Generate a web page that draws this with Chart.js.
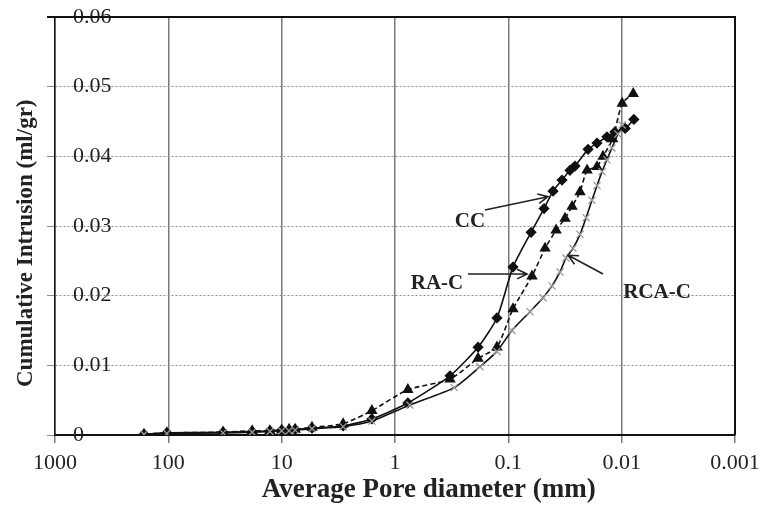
<!DOCTYPE html>
<html>
<head>
<meta charset="utf-8">
<script src="https://cdn.jsdelivr.net/npm/chart.js@4.4.0/dist/chart.umd.min.js"></script>
<style>
  html, body { margin: 0; padding: 0; background: #fff; }
  #wrap { width: 763px; height: 506px; }
</style>
</head>
<body>
<div id="wrap"><canvas id="poros"></canvas></div>
<script>
/* ==================
    DATOS
================== */

// CC (rombos, linea continua)
const diamCC = [164, 103, 32.9, 18.2, 12.7, 10, 8.6, 7.6, 5.4, 2.87, 1.6, 0.77, 0.327, 0.185, 0.126, 0.091, 0.063, 0.0484, 0.0403, 0.0336, 0.0286, 0.0258, 0.0198, 0.0165, 0.0135, 0.0115, 0.0093, 0.0078];
const intrCC = [0.0001, 0.0003, 0.0004, 0.0005, 0.0006, 0.0007, 0.0007, 0.0008, 0.0010, 0.0013, 0.0023, 0.0046, 0.0085, 0.0126, 0.0168, 0.0241, 0.0291, 0.0325, 0.0350, 0.0366, 0.0380, 0.0386, 0.0410, 0.0419, 0.0428, 0.0435, 0.0440, 0.0453];

// RA-C (triangulos, linea discontinua)
const diamRAC = [164, 103, 32.9, 18.2, 12.7, 10, 8.6, 7.6, 5.4, 2.87, 1.6, 0.77, 0.327, 0.185, 0.126, 0.091, 0.0618, 0.0474, 0.0379, 0.0316, 0.0274, 0.0233, 0.0202, 0.0165, 0.0146, 0.0120, 0.0099, 0.0079];
const intrRAC = [0.0001, 0.0003, 0.0004, 0.0006, 0.0006, 0.0007, 0.0008, 0.0008, 0.0011, 0.0016, 0.0035, 0.0065, 0.0080, 0.0110, 0.0126, 0.0181, 0.0228, 0.0268, 0.0294, 0.0311, 0.0328, 0.0349, 0.0380, 0.0385, 0.0400, 0.0425, 0.0476, 0.0490];

// RCA-C (cruces grises, linea continua)
const diamRCAC = [164, 103, 32.9, 18.2, 12.7, 10, 8.6, 7.6, 5.4, 2.87, 1.6, 0.74, 0.30, 0.178, 0.126, 0.093, 0.0644, 0.0494, 0.0412, 0.035, 0.031, 0.0269, 0.0233, 0.0206, 0.0183, 0.0165, 0.0149, 0.0135, 0.0122, 0.0108, 0.0099];
const intrRCAC = [0.0001, 0.0002, 0.0003, 0.0004, 0.0005, 0.0006, 0.0006, 0.0007, 0.0009, 0.0012, 0.0020, 0.0043, 0.0068, 0.0098, 0.0120, 0.0150, 0.0177, 0.0197, 0.0214, 0.0234, 0.0254, 0.0268, 0.0288, 0.0312, 0.0337, 0.0358, 0.0378, 0.0395, 0.0412, 0.0432, 0.0445];

// Marcas de los ejes
const ticksX = [1000, 100, 10, 1, 0.1, 0.01, 0.001];
const etiquetasX = ['1000', '100', '10', '1', '0.1', '0.01', '0.001'];
const etiquetasY = ['0', '0.01', '0.02', '0.03', '0.04', '0.05', '0.06'];

// Rotulos con flecha (en unidades de los ejes)
const rotulos = [
    { texto: 'CC', x: 0.218, y: 0.0306, x0: 0.161, y0: 0.0323, x1: 0.0447, y1: 0.0342 },
    { texto: 'RA-C', x: 0.426, y: 0.0217, x0: 0.227, y0: 0.0231, x1: 0.0684, y1: 0.0231 },
    { texto: 'RCA-C', x: 0.00488, y: 0.0204, x0: 0.0146, y0: 0.0231, x1: 0.0297, y1: 0.0258 }
];

const puntos = (xs, ys) => xs.map((x, i) => ({ x: x, y: ys[i] }));
const nb = n => '\u00a0'.repeat(n);

/* ==================
    PLUGINS
================== */

// Marco negro arriba y a la derecha
const marco = {
    id: 'marco',
    afterDatasetsDraw(chart) {
        const { ctx, chartArea: a } = chart;
        ctx.save();
        ctx.strokeStyle = '#111';
        ctx.lineWidth = 2;
        ctx.beginPath();
        ctx.moveTo(a.left - 8, a.top);
        ctx.lineTo(a.right, a.top);
        ctx.lineTo(a.right, a.bottom);
        ctx.stroke();
        ctx.restore();
    }
};

// Textos y flechas
const flechas = {
    id: 'flechas',
    afterDatasetsDraw(chart) {
        const { ctx, scales } = chart;
        const sx = scales.x, sy = scales.y;
        ctx.save();
        ctx.font = 'bold 21px "Liberation Serif", serif';
        ctx.fillStyle = '#222';
        ctx.strokeStyle = '#222';
        ctx.lineWidth = 1.6;
        ctx.textAlign = 'center';
        ctx.textBaseline = 'middle';
        rotulos.forEach(r => {
            ctx.fillText(r.texto, sx.getPixelForValue(r.x), sy.getPixelForValue(r.y));
            const ax = sx.getPixelForValue(r.x0), ay = sy.getPixelForValue(r.y0);
            const bx = sx.getPixelForValue(r.x1), by = sy.getPixelForValue(r.y1);
            const ang = Math.atan2(by - ay, bx - ax);
            ctx.beginPath();
            ctx.moveTo(ax, ay);
            ctx.lineTo(bx, by);
            ctx.moveTo(bx - 11 * Math.cos(ang - 0.45), by - 11 * Math.sin(ang - 0.45));
            ctx.lineTo(bx, by);
            ctx.lineTo(bx - 11 * Math.cos(ang + 0.45), by - 11 * Math.sin(ang + 0.45));
            ctx.stroke();
        });
        ctx.restore();
    }
};

/* ==================
    GRAFICA
================== */

const ctx = document.getElementById('poros').getContext('2d');
new Chart(ctx, {
    type: 'line',
    data: {
        datasets: [
            {
                label: 'RCA-C',
                data: puntos(diamRCAC, intrRCAC),
                borderColor: '#111',
                borderWidth: 1.6,
                pointStyle: 'crossRot',
                pointRadius: 5,
                pointBorderColor: '#999',
                pointBorderWidth: 1.3,
                tension: 0.2
            },
            {
                label: 'RA-C',
                data: puntos(diamRAC, intrRAC),
                borderColor: '#111',
                borderWidth: 1.6,
                borderDash: [5, 3],
                pointStyle: 'triangle',
                pointRadius: 5,
                pointBackgroundColor: '#111',
                pointBorderColor: '#111',
                tension: 0.2
            },
            {
                label: 'CC',
                data: puntos(diamCC, intrCC),
                borderColor: '#111',
                borderWidth: 1.6,
                pointStyle: 'rectRot',
                pointRadius: 4.5,
                pointBackgroundColor: '#111',
                pointBorderColor: '#111',
                tension: 0.2
            }
        ]
    },
    options: {
        responsive: true,
        maintainAspectRatio: false,
        animation: false,
        layout: { padding: { top: 17, right: 28, left: 0, bottom: 0 } },
        plugins: {
            legend: { display: false },
            tooltip: { enabled: false }
        },
        scales: {
            x: {
                type: 'logarithmic',
                reverse: true,
                min: 0.001,
                max: 1000,
                afterBuildTicks: s => { s.ticks = ticksX.map(v => ({ value: v })); },
                afterFit: s => { s.height = 71; s.paddingLeft = 0; s.paddingRight = 0; },
                ticks: {
                    autoSkip: false,
                    maxRotation: 0,
                    padding: 7,
                    color: '#222',
                    font: { family: '"Liberation Serif", serif', size: 22 },
                    callback: (v, i) => etiquetasX[i]
                },
                grid: { color: '#7a7a7a', lineWidth: 1.5, tickLength: 8 },
                border: { color: '#111', width: 2 },
                title: {
                    display: true,
                    text: nb(10) + 'Average Pore diameter (mm)',
                    color: '#222',
                    padding: { top: 0, bottom: 0 },
                    font: { family: '"Liberation Serif", serif', size: 27, weight: 'bold' }
                }
            },
            y: {
                min: 0,
                max: 0.06,
                afterFit: s => { s.width = 55; s.paddingTop = 0; s.paddingBottom = 0; },
                ticks: {
                    stepSize: 0.01,
                    mirror: true,
                    padding: 18,
                    color: '#222',
                    font: { family: '"Liberation Serif", serif', size: 22 },
                    callback: (v, i) => etiquetasY[i]
                },
                grid: { color: '#8a8a8a', lineWidth: 1, tickLength: 8 },
                border: { color: '#111', width: 1.5, dash: [2, 2] },
                title: {
                    display: true,
                    text: 'Cumulative Intrusion (ml/gr)' + nb(6),
                    color: '#222',
                    padding: { top: 12, bottom: 0 },
                    font: { family: '"Liberation Serif", serif', size: 23, weight: 'bold' }
                }
            }
        }
    },
    plugins: [marco, flechas]
});
</script>
</body>
</html>
